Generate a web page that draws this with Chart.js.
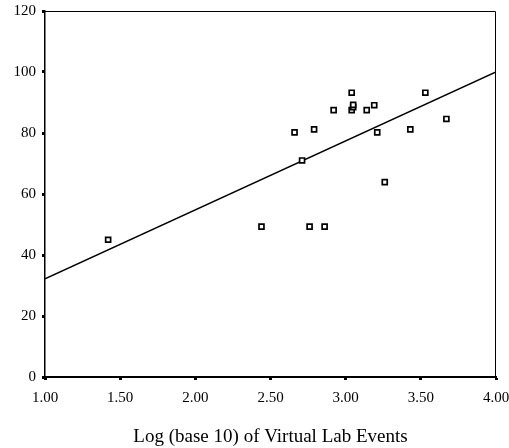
<!DOCTYPE html>
<html>
<head>
<meta charset="utf-8">
<script src="https://cdn.jsdelivr.net/npm/chart.js@4"></script>
<style>
  html, body { margin: 0; padding: 0; background: #fff; }
  #wrap { width: 509px; height: 448px; }
</style>
</head>
<body>
<div id="wrap"><canvas id="chart"></canvas></div>
<script>
// log10 of virtual lab events vs score
const eventsLog = [1.42, 2.44, 2.66, 2.71, 2.76, 2.79, 2.86, 2.92, 3.04, 3.04, 3.05, 3.05, 3.14, 3.19, 3.21, 3.26, 3.43, 3.53, 3.67];
const scores = [45, 49.3, 80.2, 71, 49.3, 81.2, 49.3, 87.5, 93.2, 87.5, 88.5, 89.2, 87.5, 89.1, 80.2, 63.9, 81.2, 93.2, 84.6];

// fitted line ends
const fitX = [1.0, 4.0];
const fitY = [32.2, 100];

const xTicks = [1.0, 1.5, 2.0, 2.5, 3.0, 3.5, 4.0];
const yTicks = [0, 20, 40, 60, 80, 100, 120];
const xTitle = 'Log (base 10) of Virtual Lab Events';

const font = { family: '"Liberation Serif", "Times New Roman", serif', size: 15 };

// draws the top and right edges of the plot box
const frame = {
    id: 'frame',
    afterDraw(c) {
        const a = c.chartArea;
        const ctx = c.ctx;
        ctx.save();
        ctx.strokeStyle = '#000';
        ctx.lineWidth = 1;
        ctx.beginPath();
        ctx.moveTo(a.left, a.top + 0.5);
        ctx.lineTo(a.right - 0.5, a.top + 0.5);
        ctx.lineTo(a.right - 0.5, a.bottom);
        ctx.stroke();
        ctx.restore();
    }
};

new Chart(document.getElementById('chart'), {
    type: 'scatter',
    data: {
        datasets: [{
            data: eventsLog.map((x, i) => ({ x: x, y: scores[i] })),
            pointStyle: 'rect',
            pointRadius: 3.5,
            borderColor: '#000',
            backgroundColor: '#fff',
            borderWidth: 1.7
        }, {
            data: fitX.map((x, i) => ({ x: x, y: fitY[i] })),
            showLine: true,
            pointRadius: 0,
            borderColor: '#000',
            borderWidth: 1.5
        }]
    },
    options: {
        responsive: true,
        maintainAspectRatio: false,
        animation: false,
        layout: { padding: { top: 11, right: 13, left: 0, bottom: 0 } },
        plugins: { legend: { display: false }, tooltip: { enabled: false } },
        scales: {
            x: {
                type: 'linear',
                min: 1, max: 4,
                afterBuildTicks: s => { s.ticks = xTicks.map(v => ({ value: v })); },
                afterFit: s => { s.height = 71; s.paddingLeft = 0; s.paddingRight = 0; },
                ticks: { color: '#000', font: font, padding: 9, maxRotation: 0,
                         callback: v => Number(v).toFixed(2) },
                grid: { drawOnChartArea: false, color: 'rgba(0,0,0,0)', tickColor: '#000',
                        tickLength: 3, tickWidth: 3 },
                border: { color: '#000', width: 2 },
                title: { display: true, text: xTitle, color: '#000',
                         font: { family: font.family, size: 19 }, padding: { top: 20, bottom: 0 } }
            },
            y: {
                min: 0, max: 120,
                afterBuildTicks: s => { s.ticks = yTicks.map(v => ({ value: v })); },
                afterFit: s => { s.width = 45; s.paddingTop = 0; s.paddingBottom = 0; },
                ticks: { color: '#000', font: font, padding: 6 },
                grid: { drawOnChartArea: false, color: 'rgba(0,0,0,0)', tickColor: '#000',
                        tickLength: 3, tickWidth: 3 },
                border: { color: '#000', width: 1.5 }
            }
        }
    },
    plugins: [frame]
});
</script>
</body>
</html>
